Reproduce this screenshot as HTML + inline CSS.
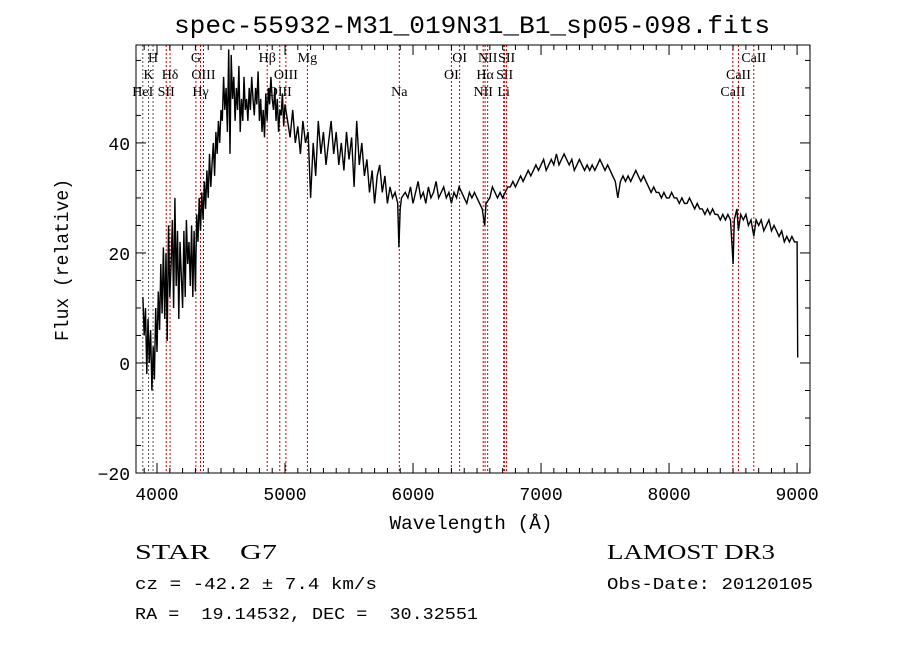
<!DOCTYPE html>
<html><head><meta charset="utf-8"><style>
html,body{margin:0;padding:0;background:#fff;}
svg{display:block;}
text{font-family:"Liberation Serif",serif;fill:#000;white-space:pre;}
.m{font-family:"Liberation Mono",monospace;}
</style></head><body>
<svg id="chart" width="900" height="649" viewBox="0 0 900 649" xmlns="http://www.w3.org/2000/svg" xml:space="preserve">
<rect width="900" height="649" fill="#fff"/>
<text x="472" y="33" font-size="25" text-anchor="middle" class="m" textLength="596" lengthAdjust="spacingAndGlyphs">spec-55932-M31_019N31_B1_sp05-098.fits</text>
<g id="lines"></g>
<g id="spec"></g>
<g id="axes"></g>
<rect x="136" y="45" width="674" height="428" fill="none" stroke="#000" stroke-width="1"/>
<text x="471" y="529" font-size="19" text-anchor="middle" class="m" textLength="163" lengthAdjust="spacingAndGlyphs">Wavelength (Å)</text>
<text transform="translate(68,260) rotate(-90)" font-size="19" text-anchor="middle" class="m" textLength="162" lengthAdjust="spacingAndGlyphs">Flux (relative)</text>
<text x="135" y="559" font-size="21" textLength="142" lengthAdjust="spacingAndGlyphs">STAR    G7</text>
<text x="607" y="559" font-size="21" textLength="168" lengthAdjust="spacingAndGlyphs">LAMOST DR3</text>
<text x="135" y="589" font-size="17" class="m" textLength="242" lengthAdjust="spacingAndGlyphs">cz = -42.2 ± 7.4 km/s</text>
<text x="607" y="589" font-size="17" class="m" textLength="206" lengthAdjust="spacingAndGlyphs">Obs-Date: 20120105</text>
<text x="135" y="619" font-size="17" class="m" textLength="343" lengthAdjust="spacingAndGlyphs">RA =  19.14532, DEC =  30.32551</text>
</svg>
<script>
const wavelengths=[3890,3900,3910,3920,3930,3940,3950,3960,3970,3980,3990,4000,4010,4020,4030,4040,4050,4060,4070,4080,4090,4100,
4110,4120,4130,4140,4150,4160,4170,4180,4190,4200,4210,4220,4230,4240,4250,4260,4270,4280,4290,4300,
4310,4320,4330,4340,4350,4360,4370,4380,4390,4400,4410,4420,4430,4440,4450,4460,4470,4480,4490,4500,
4510,4520,4530,4540,4550,4560,4570,4580,4590,4600,4610,4620,4630,4640,4650,4660,4670,4680,4690,4700,
4710,4720,4730,4740,4750,4760,4770,4780,4790,4800,4810,4820,4830,4840,4850,4860,4870,4880,4890,4900,4910,4920,4930,4940,4950,4960,4970,4980,4990,5000,
5020,5040,5060,5080,5100,5120,5140,5160,5180,5200,5220,5240,5260,5280,5300,5320,5340,5360,5380,5400,5420,5440,5460,5480,5500,5520,5540,5560,5580,5600,
5620,5640,5660,5680,5700,5720,5740,5760,5780,5800,5820,5840,5860,5880,5890,5900,5910,
5940,5960,5980,6000,6020,6040,6060,6080,6100,6120,6140,6160,6180,6200,6220,6240,6260,6280,6300,6320,6340,6360,6380,6400,6420,6440,6460,6480,6500,6520,
6540,6560,6570,6600,6620,6640,6660,6680,6700,6720,6740,
6760,6780,6800,6820,6840,6860,6880,6900,6920,6940,6960,6980,7000,
7020,7040,7060,7080,7100,7120,7140,7160,7180,7200,7220,7240,7260,7280,7300,7320,7340,7360,7380,7400,7420,7440,7460,7480,7500,7520,7540,7560,7580,
7600,7620,7640,7660,7680,7700,7720,7740,7760,7780,7800,
7820,7840,7860,7880,7900,7920,7940,7960,7980,8000,8020,8040,8060,8080,8100,8120,8140,8160,8180,8200,8220,8240,8260,8280,8300,8320,8340,8360,8380,8400,8420,8440,8460,8480,
8490,8500,8510,8530,8542,8560,8580,8600,8620,8640,8662,8680,
8700,8720,8740,8760,8780,8800,8820,8840,8860,8880,8900,8920,8940,8960,8980,9000,9005];
const fluxes=[12,5,10,-2,8,0,6,-5,3,-3,10,2,13,6,18,9,21,8,20,4,25,12,
18,26,10,30,14,24,8,22,16,10,24,12,26,18,22,14,25,12,24,13,
27,22,30,24,31,26,33,28,35,30,38,32,36,40,34,42,38,44,40,46,
44,52,46,50,42,57,38,56,48,52,44,50,46,54,42,48,44,52,46,48,
44,50,46,52,48,45,50,47,53,44,48,42,46,41,49,44,50,47,52,48,46,50,44,48,42,46,45,49,43,47,
44,41,46,40,43,38,44,40,42,30,40,34,44,38,42,36,40,44,38,42,36,40,35,42,37,41,32,44,36,40,
34,37,31,35,29,34,36,31,34,29,32,30,31,29,21,28,30,
31,30,32,29,31,33,30,31,29,32,30,31,33,30,31,32,30,31,29,31,30,32,31,30,29,31,30,31,30,29,
28,25,29,30,32,31,30,31,30,31,32,
32,33,32,33,34,33,34,35,34,35,36,35,36,
37,35,36,37,36,38,36,37,38,37,36,37,35,36,37,36,35,36,35,36,35,36,37,36,35,36,35,34,33,
30,33,34,33,34,33,34,35,34,33,34,
33,32,31,32,31,31,30,31,30,30,31,30,30,29,30,29,29,30,29,28,29,28,28,27,28,27,28,27,27,26,27,26,27,26,
22,18,26,28,24,27,26,27,25,26,23,26,
25,26,24,25,26,24,25,24,23,24,22,23,22,23,22,22,1];
const lineWaves=[3889,3934,3969,4072,4102,4304,4340,4363,4861,4959,5007,5175,5893,6300,6364,6548,6563,6583,6708,6716,6731,8498,8542,8662];
const lineNames=["HeI","K","H","SII","Hδ","G","Hγ","OIII","Hβ","OIII","OIII","Mg","Na","OI","OI","NII","Hα","NII","Li","SII","SII","CaII","CaII","CaII"];
const lineRows=[3,2,1,3,2,1,3,2,1,3,2,1,3,2,1,3,2,1,3,2,1,3,2,1];
const xTicks=[4000,5000,6000,7000,8000,9000];
const yTicks=[-20,0,20,40];
const NS="http://www.w3.org/2000/svg";
const X0=136,X1=810,Y0=45,Y1=473;
const xMin=3836,xMax=9101,yMin=-20,yMax=57.8;
function sx(w){return X0+(w-xMin)/(xMax-xMin)*(X1-X0);}
function sy(f){return Y1-(f-yMin)/(yMax-yMin)*(Y1-Y0);}
function mk(tag,parent){const e=document.createElementNS(NS,tag);parent.appendChild(e);return e;}
const spec=document.getElementById('spec');
const pl=mk('polyline',spec);


pl.setAttribute('points',wavelengths.map((w,i)=>sx(w).toFixed(1)+','+Math.max(Y0,Math.min(Y1,sy(fluxes[i]))).toFixed(1)).join(' '));
pl.setAttribute('fill','none');pl.setAttribute('stroke','#000');pl.setAttribute('stroke-width','1.4');
const lg=document.getElementById('lines');
lineWaves.forEach((w,i)=>{
  const x=sx(w);
  const l=mk('line',lg);
  
  
  l.setAttribute('x1',x);l.setAttribute('x2',x);l.setAttribute('y1',Y0);l.setAttribute('y2',Y1);
  l.setAttribute('stroke',i<3?'#555':'#c00000');l.setAttribute('stroke-width','1');l.setAttribute('stroke-dasharray','2,2');
  const t=mk('text',lg);
  
  
  t.setAttribute('x',x);t.setAttribute('y',62+(lineRows[i]-1)*17);
  t.setAttribute('font-size','14');t.setAttribute('text-anchor','middle');
  t.textContent=lineNames[i];
});
const ax=document.getElementById('axes');
for(let w=3900;w<=9100;w+=100){
  const major=w%1000===0;const len=major?10:5;const x=sx(w);
  [[Y1,Y1-len],[Y0,Y0+len]].forEach(p=>{const l=mk('line',ax);
    
    
    l.setAttribute('x1',x);l.setAttribute('x2',x);l.setAttribute('y1',p[0]);l.setAttribute('y2',p[1]);l.setAttribute('stroke','#000');});
}
for(let f=-20;f<=55;f+=5){
  const major=f%20===0;const len=major?10:5;const y=sy(f);
  [[X0,X0+len],[X1,X1-len]].forEach(p=>{const l=mk('line',ax);
    
    
    l.setAttribute('x1',p[0]);l.setAttribute('x2',p[1]);l.setAttribute('y1',y);l.setAttribute('y2',y);l.setAttribute('stroke','#000');});
}
xTicks.forEach(v=>{const t=mk('text',ax);
  
  
  t.setAttribute('x',sx(v));t.setAttribute('y',Y1+27);t.setAttribute('font-size','18');t.setAttribute('text-anchor','middle');t.setAttribute('class','m');
  t.textContent=v;});
yTicks.forEach(v=>{const t=mk('text',ax);
  
  
  t.setAttribute('x',X0-6);t.setAttribute('y',sy(v)+7);t.setAttribute('font-size','18');t.setAttribute('text-anchor','end');t.setAttribute('class','m');
  t.textContent=v<0?'\u2212'+(-v):v;});
</script>
</body></html>
